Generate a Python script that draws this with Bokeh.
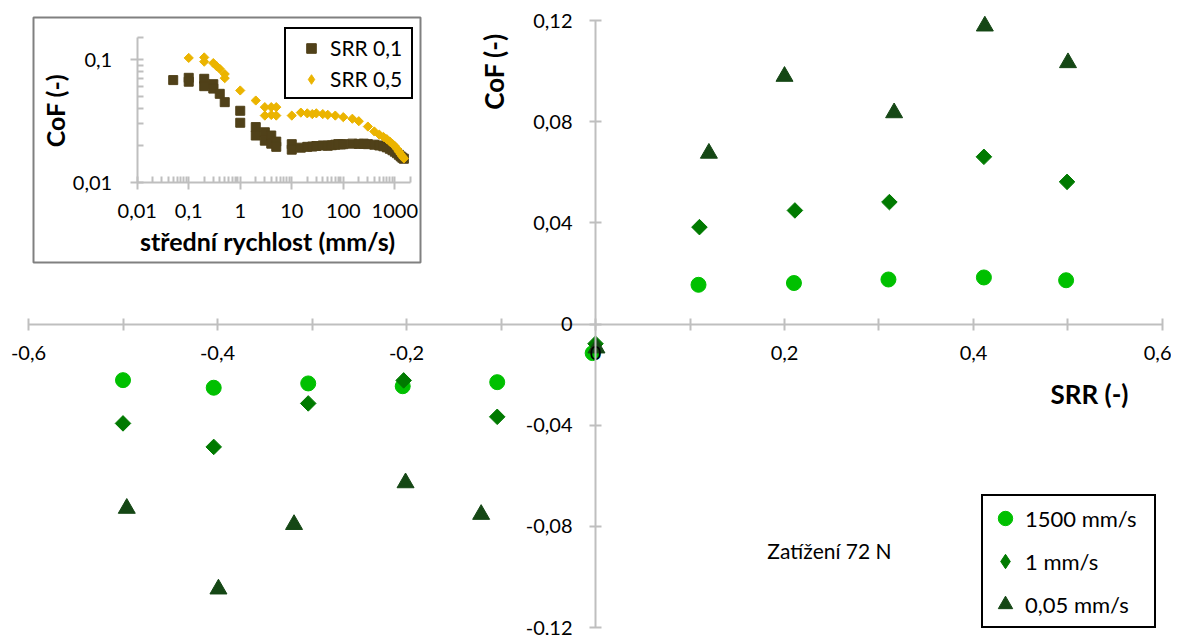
import math
from bokeh.plotting import figure
from bokeh.models import (Range1d, FixedTicker, Legend, LegendItem, Label, LogAxis,
                          LogScale, BoxAnnotation)
from bokeh.embed import file_html
from bokeh.resources import INLINE

# ---------------- main chart data ----------------
speed_labels = ["1500 mm/s", "1 mm/s", "0,05 mm/s"]
srr_1500 = [-0.500, -0.404, -0.304, -0.204, -0.104, -0.003, 0.109, 0.210, 0.310, 0.411, 0.498]
cof_1500 = [-0.0222, -0.0252, -0.0235, -0.0246, -0.0230, -0.0115, 0.0155, 0.0162, 0.0176, 0.0184, 0.0173]
srr_1 = [-0.500, -0.404, -0.304, -0.203, -0.104, 0.000, 0.110, 0.211, 0.311, 0.411, 0.499]
cof_1 = [-0.0393, -0.0486, -0.0314, -0.0223, -0.0367, -0.0078, 0.0383, 0.0449, 0.0482, 0.0661, 0.0562]
srr_005 = [-0.496, -0.399, -0.319, -0.201, -0.121, 0.001, 0.120, 0.200, 0.316, 0.412, 0.500]
cof_005 = [-0.0729, -0.1048, -0.0793, -0.0628, -0.0753, -0.0095, 0.0675, 0.0979, 0.0835, 0.1178, 0.1033]

x_ticks = [-0.6, -0.4, -0.2, 0, 0.2, 0.4, 0.6]
x_tick_labels = ["-0,6", "-0,4", "-0,2", "0", "0,2", "0,4", "0,6"]
x_minor_ticks = [-0.5, -0.3, -0.1, 0.1, 0.3, 0.5]
y_ticks = [-0.12, -0.08, -0.04, 0, 0.04, 0.08, 0.12]
y_tick_labels = ["-0,12", "-0,08", "-0,04", "0", "0,04", "0,08", "0,12"]

# ---------------- inset data ----------------
inset_labels = ["SRR 0,1", "SRR 0,5"]
speed_srr01 = [0.05, 0.1, 0.1, 0.2, 0.2, 0.3, 0.3, 0.4, 0.5, 1, 1, 2, 2, 3, 3, 4, 4, 5, 5,
               10, 10, 15, 20, 25, 30, 40, 50, 60, 70, 80, 90, 100, 150, 200, 250, 300, 400,
               500, 600, 700, 800, 900, 1000, 1100, 1200, 1300, 1400, 1500]
cof_srr01 = [0.068, 0.071, 0.066, 0.0697, 0.0607, 0.063, 0.058, 0.0526, 0.045, 0.0383, 0.0306,
             0.0282, 0.0241, 0.0256, 0.0219, 0.0241, 0.0207, 0.0215, 0.0195,
             0.0205, 0.0185, 0.0192, 0.0195, 0.0196, 0.0198, 0.0200, 0.0199, 0.0201, 0.0203,
             0.0205, 0.0204, 0.0205, 0.0207, 0.0206, 0.0207, 0.0205, 0.0203,
             0.0200, 0.0197, 0.0193, 0.0188, 0.0183, 0.0178, 0.0173, 0.0168, 0.0163, 0.0159, 0.0156]
speed_srr05 = [0.1, 0.2, 0.2, 0.3, 0.35, 0.4, 0.5, 0.5, 1, 2, 3, 3, 4, 4, 5, 5, 10, 15, 20, 25,
               30, 40, 50, 70, 100, 150, 200, 300, 400, 500, 600, 700, 800, 900, 1000, 1100,
               1200, 1300, 1400, 1500]
cof_srr05 = [0.103, 0.104, 0.096, 0.0935, 0.088, 0.084, 0.0762, 0.0705, 0.056, 0.0464, 0.041,
             0.035, 0.041, 0.0354, 0.041, 0.035, 0.035, 0.037, 0.0365, 0.036, 0.0365, 0.036,
             0.0355, 0.035, 0.034, 0.033, 0.0315, 0.0285, 0.026, 0.0245, 0.0235, 0.0225,
             0.0215, 0.0206, 0.0198, 0.0188, 0.0178, 0.0170, 0.0163, 0.0157]

inset_x_ticks = [0.01, 0.1, 1, 10, 100, 1000]
inset_x_tick_labels = ["0,01", "0,1", "1", "10", "100", "1000"]
inset_y_ticks = [0.01, 0.1]
inset_y_tick_labels = ["0,01", "0,1"]

FONT = "Lato"
AXIS_GREY = "#BFBFBF"
C_1500, C_1, C_005 = "#00C000", "#007A00", "#154715"
C_SQ, C_DI = "#504119", "#EBB400"

W, H = 1171, 635
# The frame fills the whole canvas; ranges are chosen so that the axes
# (limited with `bounds`) land where they are in the original picture.
p = figure(width=W, height=H, x_range=Range1d(-0.629630, 0.609524),
           y_range=Range1d(-0.123163, 0.127908),
           output_backend="svg", toolbar_location=None,
           min_border_left=0, min_border_right=0, min_border_top=0, min_border_bottom=0)
p.grid.visible = False
p.outline_line_color = None
p.background_fill_color = "white"
p.border_fill_color = "white"

# inset coordinate system (log-log), mapped over the same canvas
p.extra_x_ranges = {"ix": Range1d(2.2214e-5, 1.19e18)}
p.extra_y_ranges = {"iy": Range1d(2.0750e-6, 0.30181)}
p.extra_x_scales = {"ix": LogScale()}
p.extra_y_scales = {"iy": LogScale()}


def style_axis(ax, tin, tout, minin, minout, standoff):
    ax.axis_line_color = AXIS_GREY
    ax.axis_line_width = 2
    ax.major_tick_line_color = AXIS_GREY
    ax.major_tick_line_width = 2
    ax.minor_tick_line_color = AXIS_GREY
    ax.minor_tick_line_width = 2
    ax.major_tick_in = tin
    ax.major_tick_out = tout
    ax.minor_tick_in = minin
    ax.minor_tick_out = minout
    ax.major_label_text_font = FONT
    ax.major_label_text_font_size = "20px"
    ax.major_label_text_color = "black"
    ax.major_label_standoff = standoff


xa = p.xaxis[0]
ya = p.yaxis[0]
xa.fixed_location = 0
ya.fixed_location = 0
xa.bounds = (x_ticks[0], x_ticks[-1])
ya.bounds = (y_ticks[0], y_ticks[-1])
style_axis(xa, 6, 6, 6, 6, 16)
style_axis(ya, 6, 6, 6, 6, 17)
xa.ticker = FixedTicker(ticks=x_ticks, minor_ticks=x_minor_ticks)
xa.major_label_overrides = dict(zip(x_ticks, x_tick_labels))
ya.ticker = FixedTicker(ticks=y_ticks, minor_ticks=[])
ya.major_label_overrides = dict(zip(y_ticks, y_tick_labels))

# inset box
p.add_layout(BoxAnnotation(left=-0.594709, right=-0.185185, top=0.121186, bottom=0.024316,
                           fill_color="white", fill_alpha=1, line_color="#808080",
                           line_alpha=1, line_width=2, level="underlay"))

# inset axes
x_minor = [m * t for t in inset_x_ticks[:-1] for m in range(2, 10)] + [2000]
y_minor = [m * 0.01 for m in range(2, 10)] + [0.15]
ixa = LogAxis(x_range_name="ix", y_range_name="iy", fixed_location=0.01, bounds=(0.01, 2000),
              ticker=FixedTicker(ticks=inset_x_ticks, minor_ticks=x_minor),
              major_label_overrides=dict(zip(inset_x_ticks, inset_x_tick_labels)))
iya = LogAxis(x_range_name="ix", y_range_name="iy", fixed_location=0.01, bounds=(0.01, 0.15),
              ticker=FixedTicker(ticks=inset_y_ticks, minor_ticks=y_minor),
              major_label_overrides=dict(zip(inset_y_ticks, inset_y_tick_labels)))
style_axis(ixa, 6, 7, 6, 0, 14)
style_axis(iya, 6, 7, 6, 0, 18)
p.add_layout(ixa, "below")
p.add_layout(iya, "left")

# main data
r1 = p.scatter(srr_1500, cof_1500, marker="circle", size=15, color=C_1500)
r2 = p.scatter(srr_1, cof_1, marker="square", angle=math.pi / 4, size=11, color=C_1)
r3 = p.scatter(srr_005, cof_005, marker="triangle", size=17, color=C_005)

# inset data
s1 = p.scatter(speed_srr01, cof_srr01, marker="square", size=9, color=C_SQ,
               x_range_name="ix", y_range_name="iy")
s2 = p.scatter(speed_srr05, cof_srr05, marker="square", angle=math.pi / 4, size=6.5,
               color=C_DI, x_range_name="ix", y_range_name="iy")

# legend keys for the diamond series (legend glyphs are drawn unrotated, so a
# diamond-shaped key is used; its single NaN point draws nothing in the plot)
NAN = float("nan")
k2 = p.scatter(x=[NAN], y=[NAN], marker="diamond", color=C_1)
k_s2 = p.scatter(x=[NAN], y=[NAN], marker="diamond", color=C_DI)

leg = Legend(items=[LegendItem(label=speed_labels[0], renderers=[r1]),
                    LegendItem(label=speed_labels[1], renderers=[k2]),
                    LegendItem(label=speed_labels[2], renderers=[r3])],
             location=(981, 7), margin=0, padding=4, spacing=7,
             glyph_width=36, glyph_height=36, label_height=36, label_width=125,
             label_standoff=2,
             label_text_font=FONT, label_text_font_size="22px", label_text_color="black",
             border_line_color="black", border_line_alpha=1, border_line_width=2,
             background_fill_alpha=1)
p.add_layout(leg, "center")

leg2 = Legend(items=[LegendItem(label=inset_labels[0], renderers=[s1]),
                     LegendItem(label=inset_labels[1], renderers=[k_s2])],
              location=(284, 536), margin=0, padding=6, spacing=6,
              glyph_width=38, glyph_height=24, label_height=24, label_width=75,
              label_standoff=0,
              label_text_font=FONT, label_text_font_size="21px", label_text_color="black",
              border_line_color="black", border_line_alpha=1, border_line_width=2,
              background_fill_alpha=1)
p.add_layout(leg2, "center")


def add_label(x, y, text, size, bold=False, angle=0.0):
    p.add_layout(Label(x=x, y=y, text=text, angle=angle, text_align="center",
                       text_baseline="middle", text_font=FONT,
                       text_font_style="bold" if bold else "normal",
                       text_font_size=size, text_color="black"))


add_label(-0.10688, 0.09983, "CoF (-)", "26px", True, math.pi / 2)
add_label(0.52275, -0.02748, "SRR (-)", "26px", True)
add_label(0.24762, -0.08955, "Zatížení 72 N", "21px")
add_label(-0.571429, 0.084415, "CoF (-)", "25px", True, math.pi / 2)
add_label(-0.347090, 0.033010, "střední rychlost (mm/s)", "25px", True)

open("out.html", "w").write(file_html(p, INLINE))
